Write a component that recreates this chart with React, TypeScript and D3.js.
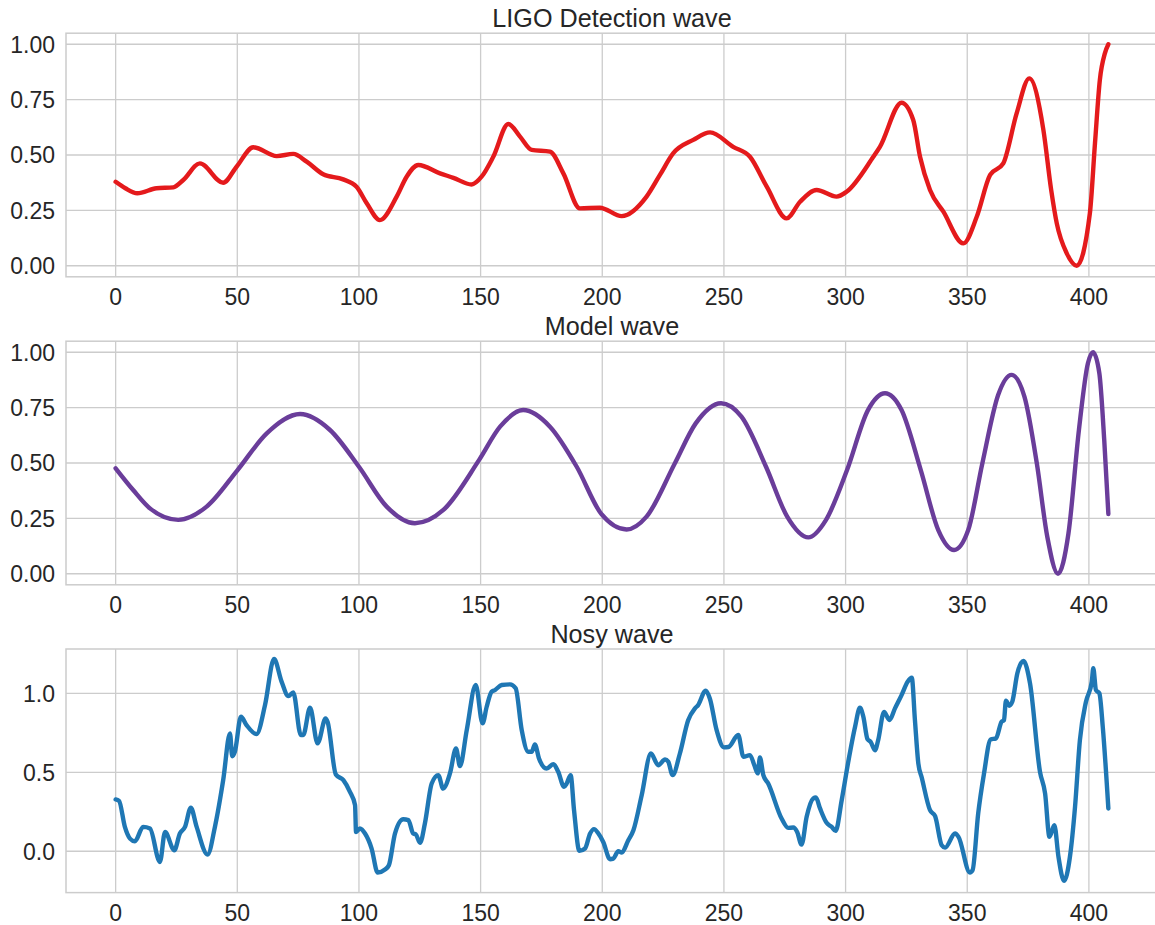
import React from 'react';
import * as d3 from 'd3';

// Shared x ticks (sample index)
const xTicks = [0, 50, 100, 150, 200, 250, 300, 350, 400];
const unitTicks = [0, 0.25, 0.5, 0.75, 1.0];
const noisyTicks = [0, 0.5, 1.0];

// Normalised detector strain
const ligoWave: [number, number][] = [
  [0, 0.379], [4, 0.35], [8.9, 0.327], [16.8, 0.35], [23.7, 0.354], [27.8, 0.387],
  [34.6, 0.462], [44.2, 0.375], [49.7, 0.447], [56.6, 0.535], [66.2, 0.495], [73, 0.505],
  [78.5, 0.47], [85.3, 0.413], [93.5, 0.39], [99, 0.357], [103.2, 0.282], [108.6, 0.206],
  [115.5, 0.312], [119.6, 0.402], [124.4, 0.455], [133.3, 0.417], [138.8, 0.397],
  [146.3, 0.367], [150.4, 0.402], [155.2, 0.492], [161.4, 0.64], [166.2, 0.583],
  [171, 0.523], [178.5, 0.515], [184, 0.417], [190.8, 0.259], [199, 0.262], [208, 0.224],
  [218.2, 0.312], [223.7, 0.41], [229.2, 0.508], [237.4, 0.568], [244.3, 0.602],
  [253.8, 0.537], [260.7, 0.492], [267.6, 0.357], [275.8, 0.214], [281.3, 0.289],
  [288.1, 0.342], [296.3, 0.312], [300.4, 0.334], [311.4, 0.492], [314.1, 0.537],
  [323, 0.736], [327.8, 0.658], [330.6, 0.492], [334.7, 0.342], [340.2, 0.244],
  [348.4, 0.101], [353.9, 0.221], [359.4, 0.41], [364.8, 0.462], [370.3, 0.688],
  [375.5, 0.846], [381.3, 0.613], [384.5, 0.342], [386.8, 0.191], [390.9, 0.056],
  [395, 0.0], [400.4, 0.237], [402.5, 0.553], [404.5, 0.839], [406.6, 0.96], [408, 1.0],
];

// Template chirp
const modelWave: [number, number][] = [
  [0, 0.476], [7.2, 0.378], [14.1, 0.295], [25.7, 0.243], [37.4, 0.303], [50.1, 0.468],
  [62.1, 0.634], [75.8, 0.721], [88.1, 0.649], [100, 0.483], [111.4, 0.303], [123, 0.228],
  [134.7, 0.288], [149.4, 0.514], [158, 0.664], [167.5, 0.739], [178.5, 0.664],
  [189.5, 0.483], [199.6, 0.27], [210, 0.2], [218.2, 0.258], [229.8, 0.498], [238.4, 0.679],
  [248.8, 0.77], [257.2, 0.709], [267.3, 0.483], [276, 0.258], [284.7, 0.164],
  [291.9, 0.242], [300.6, 0.468], [309.2, 0.739], [316.2, 0.815], [323, 0.739],
  [330.9, 0.468], [338.1, 0.197], [344.6, 0.107], [350.4, 0.197], [356.2, 0.498],
  [362.7, 0.807], [368.2, 0.898], [373.5, 0.8], [378.6, 0.498], [382.9, 0.167],
  [387.3, 0.0], [391.6, 0.182], [395.9, 0.649], [399.6, 0.95], [401.7, 1.0],
  [404.3, 0.905], [406.3, 0.604], [408, 0.27],
];

// Template with added noise
const noisyWave: [number, number][] = [
  [0, 0.328], [1.4, 0.319], [3.8, 0.154], [5.9, 0.08], [7.9, 0.063], [11.3, 0.154],
  [14.1, 0.144], [18.2, -0.068], [20.3, 0.122], [24.1, 0.006], [26.4, 0.112], [28.5, 0.154],
  [30.9, 0.275], [33.3, 0.154], [37.8, -0.021], [40.8, 0.154], [44.2, 0.45], [47, 0.746],
  [47.9, 0.602], [49, 0.63], [51.5, 0.852], [53.8, 0.799], [57.9, 0.742], [61.4, 0.926],
  [65.1, 1.218], [68.2, 1.074], [71, 0.983], [73, 1.006], [76.1, 0.736], [77.1, 0.736],
  [79.9, 0.909], [83, 0.683], [86.3, 0.841], [87.1, 0.82], [90.5, 0.486], [93.6, 0.45],
  [96.3, 0.376], [98.4, 0.292], [98.8, 0.122], [100.4, 0.144], [102.5, 0.112],
  [105.2, 0.017], [107.7, -0.135], [110.7, -0.116], [112.3, -0.089], [114.8, 0.112],
  [118.2, 0.203], [120.3, 0.197], [122.3, 0.112], [123.4, 0.106], [125.1, 0.053],
  [127.1, 0.176], [129.9, 0.429], [132.6, 0.482], [134.6, 0.397], [137.4, 0.493],
  [139.9, 0.651], [141.5, 0.539], [144.3, 0.767], [148, 1.053], [150.8, 0.81],
  [152.5, 0.915], [154.5, 1.01], [155.9, 1.021], [158.7, 1.053], [162.1, 1.057],
  [164.4, 1.032], [166.9, 0.767], [169.6, 0.63], [171, 0.63], [172.3, 0.677], [174, 0.588],
  [177.1, 0.524], [179.9, 0.552], [181.9, 0.503], [184.3, 0.408], [185.4, 0.43],
  [187, 0.482], [188.4, 0.26], [190.6, 0.002], [192.9, 0.017], [195, 0.112], [196.6, 0.14],
  [198.4, 0.112], [200.4, 0.059], [203.2, -0.051], [204.5, -0.047], [206.6, 0.0],
  [208, -0.008], [210.7, 0.07], [212.8, 0.133], [216.2, 0.355], [220, 0.619], [223, 0.545],
  [225.8, 0.581], [227.1, 0.568], [228.9, 0.482], [231.9, 0.619], [235.3, 0.83],
  [238.1, 0.905], [239.4, 0.926], [242.5, 1.017], [244.2, 0.968], [247, 0.767],
  [250, 0.658], [251.8, 0.66], [255.9, 0.736], [258, 0.598], [260.7, 0.609], [262.5, 0.545],
  [263.9, 0.493], [264.8, 0.594], [266.2, 0.482], [268.2, 0.429], [273.7, 0.207],
  [276.4, 0.148], [278.5, 0.15], [280.1, 0.122], [281.9, 0.042], [284, 0.218],
  [286.7, 0.334], [287.8, 0.34], [289.5, 0.271], [292.2, 0.18], [294.3, 0.154],
  [295.9, 0.129], [298.4, 0.323], [301.1, 0.566], [303.9, 0.788], [305.9, 0.909],
  [307.3, 0.852], [309, 0.71], [310.3, 0.693], [312.1, 0.64], [313.4, 0.704],
  [315.8, 0.883], [318, 0.831], [320.3, 0.905], [323, 0.989], [325.5, 1.074],
  [327.2, 1.099], [328.5, 0.831], [329.9, 0.556], [331.3, 0.467], [334.7, 0.26],
  [336.8, 0.222], [339.5, 0.038], [340.9, 0.023], [345, 0.112], [346.4, 0.091],
  [351.1, -0.135], [352.2, -0.12], [354.5, 0.239], [356.9, 0.493], [359.6, 0.708],
  [361.8, 0.715], [364.1, 0.82], [365.1, 0.83], [365.9, 0.953], [367.2, 0.922],
  [368.5, 0.947], [370.6, 1.127], [373.1, 1.205], [375.8, 1.063], [379.9, 0.503],
  [382, 0.366], [383.8, 0.091], [385.8, 0.165], [387.5, -0.036], [389.8, -0.188],
  [392.2, -0.036], [394.3, 0.281], [396.3, 0.704], [398.8, 0.947], [401.2, 1.074],
  [401.8, 1.159], [402.9, 1.021], [404.3, 1.0], [405.7, 0.788], [408, 0.271],
];

const WIDTH = 1155;
const HEIGHT = 925;
const AX_LEFT = 66;
const AX_RIGHT = 1158;
const AX_HEIGHT = 243.6;
const TEXT = '#262626';
const GRID = '#cccccc';
const FONT = '"Liberation Sans", Arial, Helvetica, sans-serif';

interface Panel {
  title: string;
  data: [number, number][];
  color: string;
  top: number;
  yDomain: [number, number];
  yTicks: number[];
  fmt: (v: number) => string;
}

const panels: Panel[] = [
  { title: 'LIGO Detection wave', data: ligoWave, color: '#e41a1c', top: 33.2,
    yDomain: [-0.05, 1.05], yTicks: unitTicks, fmt: d3.format('.2f') },
  { title: 'Model wave', data: modelWave, color: '#6a3d9a', top: 341.2,
    yDomain: [-0.05, 1.05], yTicks: unitTicks, fmt: d3.format('.2f') },
  { title: 'Nosy wave', data: noisyWave, color: '#1f77b4', top: 649,
    yDomain: [-0.262, 1.281], yTicks: noisyTicks, fmt: d3.format('.1f') },
];

const x = d3.scaleLinear().domain([-20.4, 428.4]).range([AX_LEFT, AX_RIGHT]);

function WavePanel({ p }: { p: Panel }) {
  const bottom = p.top + AX_HEIGHT;
  const y = d3.scaleLinear().domain(p.yDomain).range([bottom, p.top]);
  const line = d3.line<[number, number]>()
    .x(d => x(d[0]))
    .y(d => y(d[1]))
    .curve(d3.curveMonotoneX);
  return (
    <g>
      {xTicks.map(t => (
        <line key={'gx' + t} x1={x(t)} x2={x(t)} y1={p.top} y2={bottom} stroke={GRID} strokeWidth={1.3} />
      ))}
      {p.yTicks.map(t => (
        <line key={'gy' + t} x1={AX_LEFT} x2={AX_RIGHT} y1={y(t)} y2={y(t)} stroke={GRID} strokeWidth={1.3} />
      ))}
      <rect x={AX_LEFT} y={p.top} width={AX_RIGHT - AX_LEFT} height={AX_HEIGHT}
        fill="none" stroke={GRID} strokeWidth={1.5} />
      <path d={line(p.data) || ''} fill="none" stroke={p.color} strokeWidth={4.4}
        strokeLinejoin="round" strokeLinecap="round" />
      {xTicks.map(t => (
        <text key={'tx' + t} x={x(t)} y={bottom + 28} textAnchor="middle"
          fontSize={23} fill={TEXT} fontFamily={FONT}>{t}</text>
      ))}
      {p.yTicks.map(t => (
        <text key={'ty' + t} x={55} y={y(t)} dy="0.36em" textAnchor="end"
          fontSize={23} fill={TEXT} fontFamily={FONT}>{p.fmt(t)}</text>
      ))}
      <text x={(AX_LEFT + AX_RIGHT) / 2} y={p.top - 6.5} textAnchor="middle"
        fontSize={25.2} fill={TEXT} fontFamily={FONT}>{p.title}</text>
    </g>
  );
}

export default function App() {
  return (
    <svg width={WIDTH} height={HEIGHT} viewBox={`0 0 ${WIDTH} ${HEIGHT}`}
      style={{ position: 'absolute', left: 0, top: 0, background: '#ffffff', overflow: 'hidden' }}>
      <rect width={WIDTH} height={HEIGHT} fill="#ffffff" />
      {panels.map(p => <WavePanel key={p.title} p={p} />)}
    </svg>
  );
}
